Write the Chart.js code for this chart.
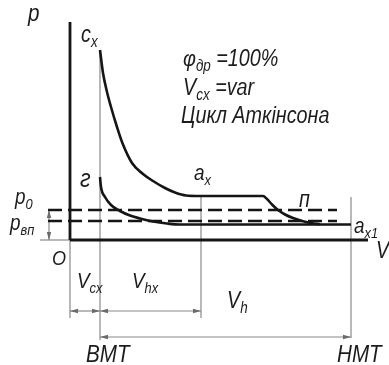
<!DOCTYPE html>
<html><head><meta charset="utf-8">
<script src="https://cdn.jsdelivr.net/npm/chart.js@4.4.0/dist/chart.umd.min.js"></script>
<style>html,body{margin:0;padding:0;background:#fff}</style>
</head><body>
<canvas id="c" width="389" height="365"></canvas>
<script>
// upper line: c_x -> a_x -> n -> a_x1 (V, p in drawing units)
const upperV = [3.0, 3.3, 3.7, 4.1, 4.7, 5.2, 6.2, 7.3, 8.3, 9.5, 10.5, 11.6, 13.0, 19.3, 19.7, 20.2, 20.8, 21.5, 22.3, 23.2, 24.1, 25.0];
const upperP = [19.0, 16.7, 14.8, 13.3, 11.3, 9.8, 7.7, 6.6, 5.9, 5.2, 4.75, 4.45, 4.4, 4.4, 4.1, 3.55, 3.0, 2.55, 2.2, 1.9, 1.7, 1.57];
// lower line: r -> a_x1
const lowerV = [3.0, 3.1, 3.5, 4.1, 5.0, 6.0, 7.0, 8.3, 9.7, 11.0, 28.1];
const lowerP = [6.3, 5.3, 4.3, 3.5, 2.9, 2.45, 2.15, 1.85, 1.65, 1.55, 1.55];
// pressure levels p0 and p_vp (dashed)
const levelP = [3.0, 1.9];
const levelV = [-2.2, 26.7];
// characteristic volumes: BMT, a_x, HMT
const markV = [3.0, 13.1, 28.1];
const markTop = [19.0, 4.4, 4.3];
const markBottom = [-10.0, -7.8, -9.8];
// dimension lines [from, to, p]
const dims = [[0, 3.0, -7.1], [3.0, 13.1, -7.1], [3.0, 28.1, -9.7]];

const labels = [
  {V: -4.2, p: 21.9, size: 24, parts: [['p', 0]]},
  {V: 1.1, p: 19.8, size: 23, parts: [['c', 0], ['x', 1]]},
  {V: 11.3, p: 17.4, size: 23, parts: [['φ', 0], ['др', 1], [' =100%', 0]]},
  {V: 11.3, p: 14.5, size: 23, parts: [['V', 0], ['cx', 1], [' =var', 0]]},
  {V: 11.1, p: 11.7, size: 23, parts: [['Цикл Аткінсона', 0]]},
  {V: 1.0, p: 5.3, size: 25, parts: [['г', 0]]},
  {V: 12.4, p: 6.0, size: 22, parts: [['a', 0], ['x', 1]]},
  {V: 22.9, p: 3.3, size: 23, parts: [['п', 0]]},
  {V: 28.4, p: 0.7, size: 22, parts: [['a', 0], ['x1', 1]]},
  {V: -5.5, p: 3.6, size: 22, parts: [['p', 0], ['0', 1]]},
  {V: -6.0, p: 1.0, size: 22, parts: [['p', 0], ['вп', 1]]},
  {V: -1.8, p: -2.5, size: 21, parts: [['O', 0]]},
  {V: 30.6, p: -1.8, size: 23, parts: [['V', 0]]},
  {V: 0.7, p: -4.8, size: 22, parts: [['V', 0], ['cx', 1]]},
  {V: 6.2, p: -4.8, size: 22, parts: [['V', 0], ['hx', 1]]},
  {V: 15.7, p: -6.8, size: 23, parts: [['V', 0], ['h', 1]]},
  {V: 1.6, p: -12.2, size: 24, parts: [['ВМТ', 0]]},
  {V: 26.7, p: -12.2, size: 24, parts: [['НМТ', 0]]}
];

function pts(xs, ys) {
  return xs.map(function (x, i) { return {x: x, y: ys[i]}; });
}
function seg(a, b, color, width, dash) {
  return {data: [a, b], borderColor: color, borderWidth: width, borderDash: dash || [],
          showLine: true, pointRadius: 0, tension: 0, fill: false};
}

const ink = '#151515', thin = '#8a8a8a';
var datasets = [];
datasets.push({data: pts(upperV, upperP), borderColor: ink, borderWidth: 2.6, showLine: true,
               pointRadius: 0, cubicInterpolationMode: 'monotone'});
datasets.push({data: pts(lowerV, lowerP), borderColor: ink, borderWidth: 2.6, showLine: true,
               pointRadius: 0, cubicInterpolationMode: 'monotone'});
levelP.forEach(function (p) {
  datasets.push(seg({x: levelV[0], y: p}, {x: levelV[1], y: p}, ink, 2.6, [14, 6]));
});
// axes
datasets.push(seg({x: 0, y: 21.8}, {x: 0, y: 0}, ink, 2.8));
datasets.push(seg({x: 0, y: 0}, {x: 29.8, y: 0}, ink, 2.8));
datasets.push(seg({x: 0, y: 0}, {x: 0, y: -7.8}, thin, 1.2));
datasets.push(seg({x: -3.0, y: 0}, {x: 0, y: 0}, thin, 1.2));
markV.forEach(function (v, i) {
  datasets.push(seg({x: v, y: markTop[i]}, {x: v, y: markBottom[i]}, thin, 1.2));
});
dims.forEach(function (d) {
  datasets.push(seg({x: d[0], y: d[2]}, {x: d[1], y: d[2]}, thin, 1.2));
});
// small p0 dimension
datasets.push(seg({x: levelV[0] + 0.1, y: levelP[0]}, {x: levelV[0] + 0.1, y: 0}, thin, 1.2));

function arrow(ctx, x, y, dx, dy) {
  var L = 8, W = 2.2;
  ctx.beginPath();
  ctx.moveTo(x, y);
  ctx.lineTo(x - dx * L - dy * W, y - dy * L + dx * W);
  ctx.lineTo(x - dx * L + dy * W, y - dy * L - dx * W);
  ctx.closePath();
  ctx.fill();
}

const drawExtras = {
  id: 'extras',
  afterDatasetsDraw: function (chart) {
    var ctx = chart.ctx, xs = chart.scales.x, ys = chart.scales.y;
    ctx.save();
    ctx.fillStyle = '#6a6a6a';
    dims.forEach(function (d) {
      var x0 = xs.getPixelForValue(d[0]), x1 = xs.getPixelForValue(d[1]), y = ys.getPixelForValue(d[2]);
      arrow(ctx, x0, y, -1, 0);
      arrow(ctx, x1, y, 1, 0);
    });
    var ax = xs.getPixelForValue(levelV[0] + 0.1);
    arrow(ctx, ax, ys.getPixelForValue(levelP[0]), 0, -1);
    arrow(ctx, ax, ys.getPixelForValue(0), 0, 1);
    ctx.fillStyle = '#1c1c1c';
    labels.forEach(function (l) {
      ctx.save();
      ctx.translate(xs.getPixelForValue(l.V), ys.getPixelForValue(l.p));
      ctx.scale(0.86, 1);
      var cx = 0;
      l.parts.forEach(function (pt) {
        var size = pt[1] ? l.size * 0.68 : l.size;
        ctx.font = 'italic ' + size + 'px "Liberation Sans", sans-serif';
        ctx.fillText(pt[0], cx, pt[1] ? l.size * 0.22 : 0);
        cx += ctx.measureText(pt[0]).width;
      });
      ctx.restore();
    });
    ctx.restore();
  }
};

new Chart(document.getElementById('c'), {
  type: 'scatter',
  data: {datasets: datasets},
  options: {
    responsive: false,
    devicePixelRatio: 1,
    animation: false,
    layout: {padding: 0},
    plugins: {legend: {display: false}, tooltip: {enabled: false}},
    elements: {line: {borderCapStyle: 'butt'}},
    scales: {
      x: {type: 'linear', min: -7, max: 31.9, display: false},
      y: {type: 'linear', min: -12.5, max: 24, display: false}
    }
  },
  plugins: [drawExtras]
});
</script>
</body></html>
